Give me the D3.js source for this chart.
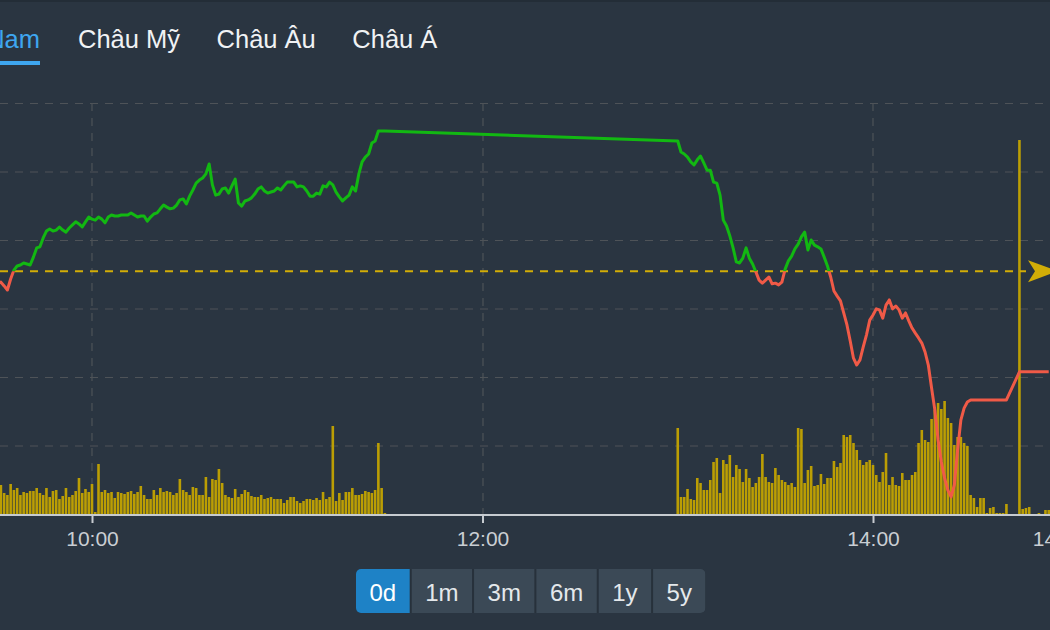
<!DOCTYPE html>
<html>
<head>
<meta charset="utf-8">
<script src="https://cdn.jsdelivr.net/npm/d3@7"></script>
<style>
  body { margin: 0; background: #2a3541; overflow: hidden; }
  svg { display: block; font-family: "Liberation Sans", Arial, sans-serif; }
</style>
</head>
<body>
<script>
var canvasWidth = 1050;
var canvasHeight = 630;

// ---- data ----
var tabLabels = ['Việt Nam', 'Châu Mỹ', 'Châu Âu', 'Châu Á'];
var activeTab = 0;
var rangeLabels = ['0d', '1m', '3m', '6m', '1y', '5y'];
var activeRange = 0;

var refPrice = 1185.09;
var priceTicks = [1178, 1180, 1182, 1184, 1186, 1188, 1190];
var timeTicks = ['10:00', '12:00', '14:00', '14:57'];

// one value per minute
var morningStart = '09:31';
var morningPrices = [
    1184.74, 1184.77, 1184.66, 1184.54, 1184.86, 1185.12, 1185.24, 1185.27, 1185.33, 1185.30,
    1185.27, 1185.50, 1185.77, 1185.80, 1186.06, 1186.26, 1186.32, 1186.26, 1186.29, 1186.38,
    1186.29, 1186.23, 1186.35, 1186.44, 1186.53, 1186.47, 1186.38, 1186.53, 1186.67, 1186.61,
    1186.58, 1186.67, 1186.61, 1186.50, 1186.67, 1186.73, 1186.70, 1186.70, 1186.73, 1186.73,
    1186.73, 1186.79, 1186.73, 1186.67, 1186.70, 1186.70, 1186.55, 1186.67, 1186.76, 1186.79,
    1186.91, 1187.02, 1186.96, 1186.91, 1186.93, 1187.02, 1187.17, 1187.20, 1187.05, 1187.28,
    1187.46, 1187.66, 1187.75, 1187.81, 1187.93, 1188.22, 1187.61, 1187.31, 1187.34, 1187.49,
    1187.52, 1187.37, 1187.58, 1187.78, 1187.08, 1186.99, 1187.14, 1187.17, 1187.23, 1187.34,
    1187.49, 1187.55, 1187.43, 1187.37, 1187.40, 1187.43, 1187.52, 1187.46, 1187.58, 1187.69,
    1187.69, 1187.69, 1187.55, 1187.58, 1187.55, 1187.43, 1187.28, 1187.28, 1187.37, 1187.34,
    1187.58, 1187.55, 1187.69, 1187.61, 1187.40, 1187.26, 1187.14, 1187.23, 1187.31, 1187.55,
    1187.43, 1187.93, 1188.28, 1188.42, 1188.51, 1188.83, 1188.89, 1189.18, 1189.18, 1189.18
];

var afternoonStart = '13:00';
var afternoonPrices = [
    1188.89, 1188.57, 1188.51, 1188.42, 1188.28, 1188.19, 1188.34, 1188.45, 1188.25, 1188.04,
    1188.04, 1187.69, 1187.66, 1187.31, 1186.58, 1186.41, 1186.12, 1185.77, 1185.36, 1185.33,
    1185.47, 1185.77, 1185.47, 1185.30, 1185.07, 1184.83, 1184.74, 1184.83, 1184.92, 1184.72,
    1184.74, 1184.69, 1184.77, 1185.15, 1185.39, 1185.53, 1185.74, 1185.88, 1186.09, 1186.23,
    1185.71, 1186.00, 1185.85, 1185.80, 1185.74, 1185.50, 1185.24, 1184.92, 1184.51, 1184.36,
    1184.22, 1183.87, 1183.52, 1183.05, 1182.55, 1182.35, 1182.50, 1182.88, 1183.23, 1183.66,
    1183.81, 1183.99, 1183.96, 1183.72, 1184.10, 1184.25, 1183.99, 1184.07, 1183.96, 1183.72,
    1183.87, 1183.64, 1183.43, 1183.28, 1183.14, 1182.99, 1182.73, 1182.35, 1181.68, 1181.04,
    1180.16, 1179.52, 1179.05, 1178.70, 1178.50, 1178.85, 1179.87, 1180.74, 1181.09, 1181.27,
    1181.33, 1181.33, 1181.33, 1181.33, 1181.33, 1181.33, 1181.33, 1181.33, 1181.33, 1181.33,
    1181.33, 1181.33
];

var closeTimes = ['14:45', '14:54'];
var closePrices = [1182.15, 1182.15];

var morningVolStart = '09:32';
var morningVolumes = [
    14.5, 10.5, 9.5, 15, 12, 13, 9.5, 11, 10.5, 11.5,
    11.5, 13, 10.5, 9.5, 13, 8.5, 11.5, 12, 7.5, 9,
    13, 8.5, 9.5, 11.5, 18, 10.5, 12.5, 11, 15, 1,
    25, 11, 12, 10.5, 11, 8, 11, 10.5, 10, 11,
    11.5, 10, 11, 14, 9.5, 7.5, 7.5, 12, 9.5, 13,
    11, 11.5, 11, 9.5, 10.5, 17.5, 12, 11, 9.5, 13.5,
    13, 9.5, 9.5, 18.5, 8.5, 17.5, 17, 22.5, 15.5, 9.5,
    8.5, 8, 12.5, 8.5, 10, 12, 11, 9, 8.5, 8.5,
    9.5, 7.5, 8, 8.5, 7.5, 7.5, 7.5, 5.5, 7, 8.5,
    8.5, 6.5, 5.5, 6.5, 7.5, 7.5, 7, 8, 7, 11,
    7.5, 8.5, 44, 6.5, 10.5, 7, 11, 11, 13, 9.5,
    9.5, 10, 11.5, 11, 10.5, 12, 35.5, 13, 0.5
];

var afternoonVolStart = '13:00';
var afternoonVolumes = [
    43, 8.5, 8.5, 12.5, 7.5, 7, 18, 15.5, 12, 12,
    17, 26, 28, 10.5, 27, 25, 29.5, 18.5, 24.5, 22.5,
    16, 22.5, 18, 13.5, 15.5, 18.5, 30, 18.5, 16, 15.5,
    23, 19.5, 17, 16, 14.5, 15.5, 13.5, 43, 42.5, 15.5,
    22, 24, 14, 14.5, 20, 15, 18, 18, 26.5, 23.5,
    25.5, 39.5, 38.5, 39.5, 35.5, 32, 27, 24.5, 26, 27,
    24.5, 19.5, 16, 21, 30.5, 14.5, 18.5, 14.5, 14, 20.5,
    17, 17, 19.5, 21, 35.5, 42, 37, 36, 47.5, 52,
    55.5, 52.5, 56.5, 48, 45.5, 34.5, 38.5, 38.5, 35.5, 34,
    9.5, 8, 3.5, 8, 8, 0.5, 3, 3.5, 0.5, 0.5,
    0.5, 5, 0, 0, 0, 187, 2.5, 3, 3.5, 0,
    0, 0.5, 0, 2, 2
];

// ---- helpers ----
var parseTime = d3.timeParse('%H:%M');

function minuteSeries(start, values) {
    var t0 = parseTime(start);
    return values.map(function (v, i) {
        return { time: d3.timeMinute.offset(t0, i), value: v };
    });
}

var priceData = minuteSeries(morningStart, morningPrices)
    .concat(minuteSeries(afternoonStart, afternoonPrices))
    .concat(closeTimes.map(function (s, i) {
        return { time: parseTime(s), value: closePrices[i] };
    }));

var volumeData = minuteSeries(morningVolStart, morningVolumes)
    .concat(minuteSeries(afternoonVolStart, afternoonVolumes))
    .filter(function (d) { return d.value > 0; });

var svg = d3
    .select('body')
    .append('svg')
    .attr('width', canvasWidth)
    .attr('height', canvasHeight);

svg.append('rect')
    .attr('width', canvasWidth)
    .attr('height', canvasHeight)
    .attr('fill', '#2a3541');

svg.append('rect')
    .attr('width', canvasWidth)
    .attr('height', 2)
    .attr('fill', '#232d37');

// ---- tabs ----
var tabG = svg.append('g');
var tabX = 40;
var tabTexts = tabG.selectAll('text')
    .data(tabLabels)
    .enter()
    .append('text')
    .attr('y', 48)
    .attr('font-size', '25.5px')
    .attr('fill', function (d, i) { return i === activeTab ? '#3ea6ef' : '#f0f2f4'; })
    .text(function (d) { return d; });

tabTexts.each(function (d, i) {
    var w = this.getComputedTextLength();
    if (i === 0) {
        d3.select(this).attr('x', tabX - w);
        tabG.append('rect')
            .attr('x', tabX - w)
            .attr('y', 61)
            .attr('width', w)
            .attr('height', 4)
            .attr('fill', '#3ea6ef');
        tabX += 38;
    } else {
        d3.select(this).attr('x', tabX);
        tabX += w + 36.5;
    }
});

// ---- scales ----
var plotTop = 103;
var plotBottom = 514;

var xScale = d3.scaleTime()
    .domain([parseTime('10:00'), parseTime('14:00')])
    .range([92, 873]);

var yScale = d3.scaleLinear()
    .domain([priceTicks[0], priceTicks[priceTicks.length - 1]])
    .range([plotBottom, plotTop]);

var vScale = d3.scaleLinear()
    .domain([0, 205.5])
    .range([plotBottom, plotTop]);

// ---- grid ----
var gridColor = '#4e5358';

svg.append('g')
    .attr('class', 'ygrid')
    .call(d3.axisRight(yScale)
        .tickValues(priceTicks.slice(1))
        .tickSize(canvasWidth)
        .tickFormat(''))
    .call(function (g) {
        g.select('.domain').remove();
        g.selectAll('line')
            .attr('stroke', gridColor)
            .attr('stroke-width', 1.2)
            .attr('stroke-dasharray', '8,7');
    });

svg.append('g')
    .selectAll('line')
    .data(timeTicks.slice(0, 3))
    .enter()
    .append('line')
    .attr('x1', function (d) { return Math.round(xScale(parseTime(d))); })
    .attr('x2', function (d) { return Math.round(xScale(parseTime(d))); })
    .attr('y1', plotTop)
    .attr('y2', plotBottom)
    .attr('stroke', gridColor)
    .attr('stroke-width', 1.2)
    .attr('stroke-dasharray', '8,7');

// ---- volume bars ----
svg.append('g')
    .selectAll('rect')
    .data(volumeData)
    .enter()
    .append('rect')
    .attr('x', function (d) { return xScale(d.time) - 1.3; })
    .attr('width', 2.6)
    .attr('y', function (d) { return vScale(d.value); })
    .attr('height', function (d) { return plotBottom - vScale(d.value); })
    .attr('fill', '#bb9e04');

// ---- reference line ----
var refY = yScale(refPrice);

svg.append('line')
    .attr('x1', 0)
    .attr('x2', 1026)
    .attr('y1', refY)
    .attr('y2', refY)
    .attr('stroke', '#d2ad07')
    .attr('stroke-width', 2)
    .attr('stroke-dasharray', '8,7');

svg.append('path')
    .attr('d', 'M1028,' + (refY - 11) + 'L1058,' + refY + 'L1028,' + (refY + 11) + 'L1035,' + refY + 'Z')
    .attr('fill', '#d2ad07');

// ---- price line, green above reference and red below ----
var defs = svg.append('defs');
defs.append('clipPath').attr('id', 'above')
    .append('rect').attr('x', 0).attr('y', 0).attr('width', canvasWidth).attr('height', refY);
defs.append('clipPath').attr('id', 'below')
    .append('rect').attr('x', 0).attr('y', refY).attr('width', canvasWidth).attr('height', canvasHeight - refY);

var line = d3.line()
    .x(function (d) { return xScale(d.time); })
    .y(function (d) { return yScale(d.value); });

[['above', '#12b812'], ['below', '#f05a47']].forEach(function (c) {
    svg.append('path')
        .datum(priceData)
        .attr('clip-path', 'url(#' + c[0] + ')')
        .attr('fill', 'none')
        .attr('stroke', c[1])
        .attr('stroke-width', 3)
        .attr('stroke-linejoin', 'round')
        .attr('d', line);
});

// ---- x axis ----
svg.append('line')
    .attr('x1', 0)
    .attr('x2', canvasWidth)
    .attr('y1', 515)
    .attr('y2', 515)
    .attr('stroke', '#c6cbd0')
    .attr('stroke-width', 2);

svg.append('g')
    .attr('transform', 'translate(0,515)')
    .call(d3.axisBottom(xScale)
        .tickValues(timeTicks.map(parseTime))
        .tickSize(8)
        .tickFormat(d3.timeFormat('%H:%M')))
    .call(function (g) {
        g.select('.domain').remove();
        g.selectAll('line').attr('stroke', '#c6cbd0').attr('stroke-width', 2);
        g.selectAll('text')
            .attr('fill', '#c9ced3')
            .attr('font-size', '21px')
            .attr('font-family', '"Liberation Sans", Arial, sans-serif')
            .attr('y', 31)
            .attr('dy', 0);
    });

// ---- range buttons ----
var btnG = svg.append('g');
var btnX = 356;
var btnTop = 569;
var btnH = 44;
var btnData = [];

var measure = btnG.append('text').attr('font-size', '24px');
rangeLabels.forEach(function (label) {
    measure.text(label);
    var w = measure.node().getComputedTextLength() + 27;
    btnData.push({ label: label, x: btnX, w: w });
    btnX += w + 2;
});
measure.remove();

var groupW = btnX - 2 - 356;
defs.append('clipPath').attr('id', 'btnclip')
    .append('rect')
    .attr('x', 356).attr('y', btnTop)
    .attr('width', groupW).attr('height', btnH)
    .attr('rx', 5);

var btnInner = btnG.append('g').attr('clip-path', 'url(#btnclip)');
btnInner.append('rect')
    .attr('x', 356).attr('y', btnTop)
    .attr('width', groupW).attr('height', btnH)
    .attr('fill', '#27313b');

btnInner.selectAll('rect.btn')
    .data(btnData)
    .enter()
    .append('rect')
    .attr('class', 'btn')
    .attr('x', function (d) { return d.x; })
    .attr('y', btnTop)
    .attr('width', function (d) { return d.w; })
    .attr('height', btnH)
    .attr('fill', function (d, i) { return i === activeRange ? '#1e82c6' : '#3b4956'; });

btnG.selectAll('text')
    .data(btnData)
    .enter()
    .append('text')
    .attr('x', function (d) { return d.x + d.w / 2; })
    .attr('y', 601)
    .attr('text-anchor', 'middle')
    .attr('font-size', '24px')
    .attr('fill', function (d, i) { return i === activeRange ? '#ffffff' : '#e4e8eb'; })
    .text(function (d) { return d.label; });
</script>
</body>
</html>
